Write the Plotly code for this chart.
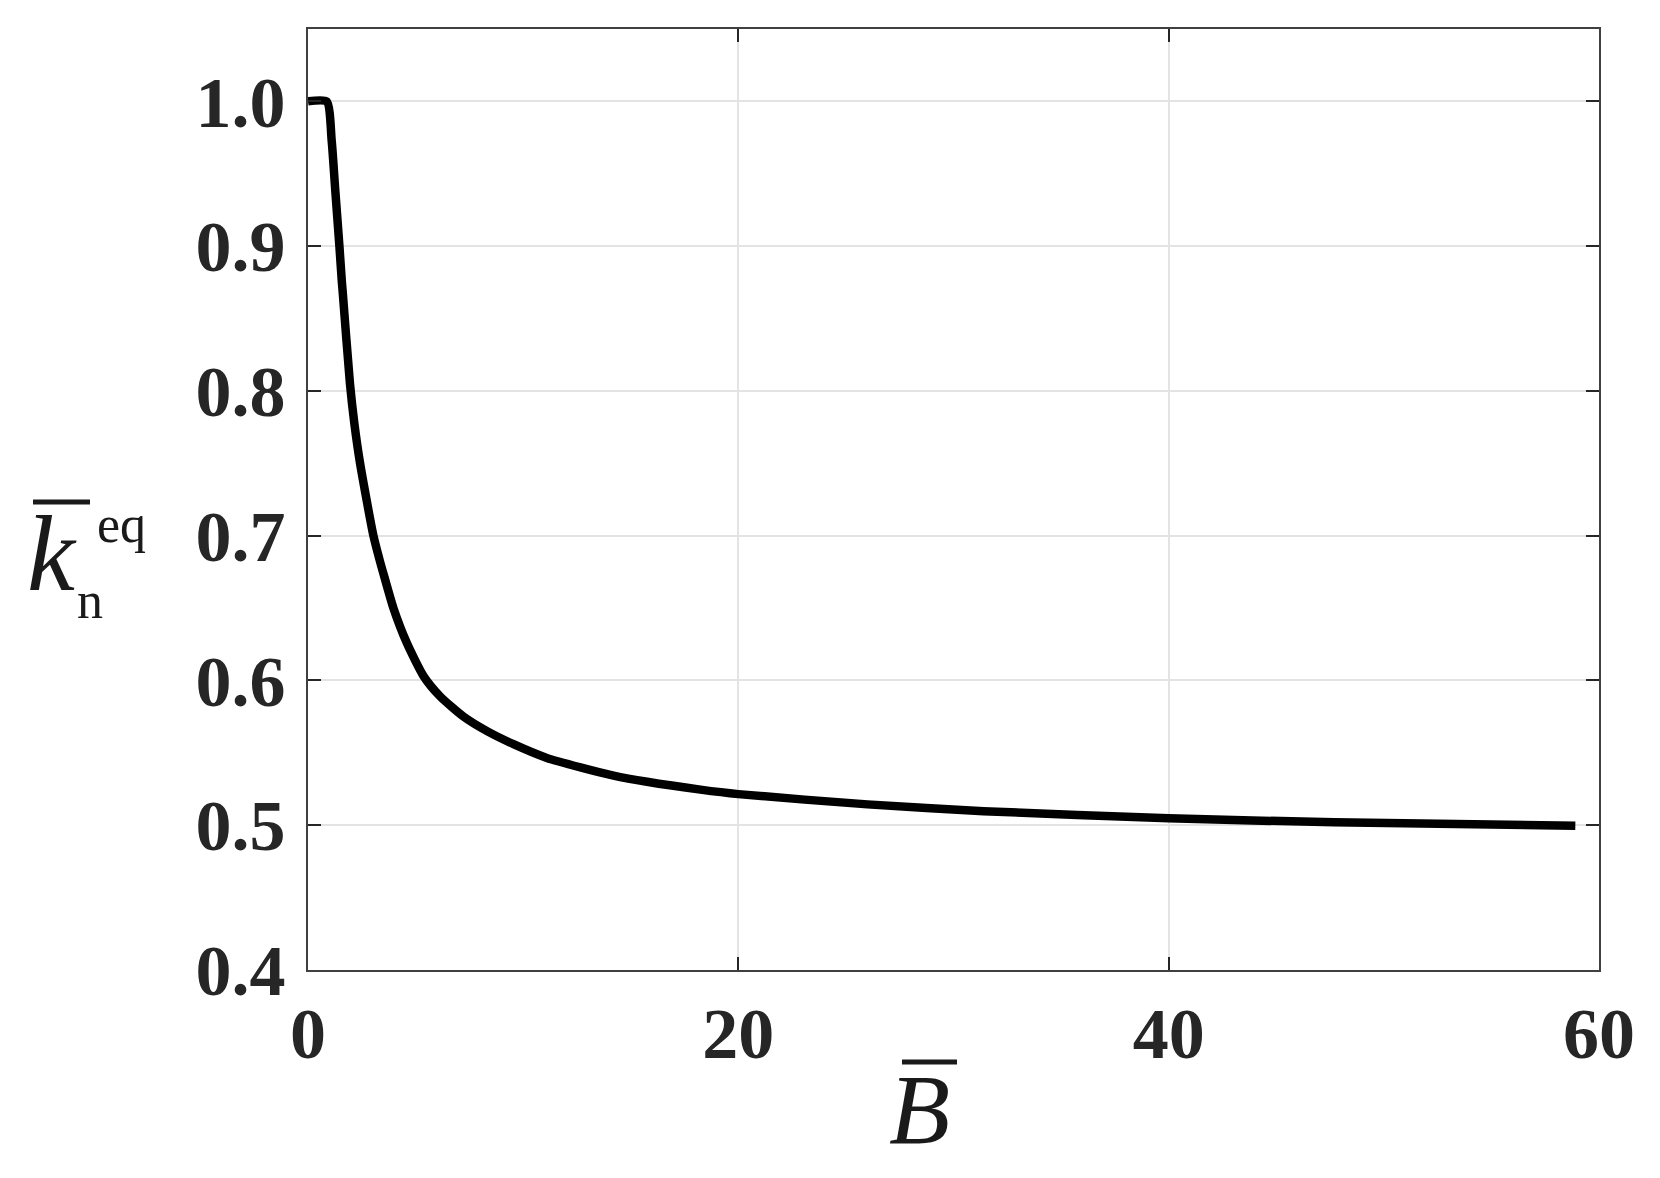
import plotly.graph_objects as go

# curve
b_bar = [0, 0.87, 1.10, 1.27, 1.46, 1.57, 1.61, 1.95, 2.15, 2.42, 3.04, 3.35, 3.54, 3.97,
         4.59, 5.37, 6.14, 7.23, 8.32, 9.55, 11.1, 12.66, 14.2, 15.76, 18.24,
         20, 26, 31.4, 40, 47.7, 58.9]
k_eq = [1.0, 1.0, 0.973, 0.938, 0.900, 0.876, 0.869, 0.805, 0.778, 0.750, 0.700, 0.682, 0.672, 0.650,
        0.626, 0.603, 0.589, 0.575, 0.565, 0.556, 0.5465, 0.540, 0.5343, 0.530, 0.5246,
        0.5215, 0.5144, 0.5097, 0.5049, 0.502, 0.4997]

x_ticks = [0, 20, 40, 60]
y_ticks = [0.4, 0.5, 0.6, 0.7, 0.8, 0.9, 1.0]

W, H = 1660, 1178
# page body has an 8px margin, so the plot box is offset by that much
L, R, T, B = 300, 69, 21, 216
X0, Y0 = 308, 970          # screen pixel of the axes origin
pw, ph = W - L - R, H - T - B


def px(x):
    return (x - X0) / pw


def py(y):
    return (Y0 - y) / ph


fig = go.Figure()
fig.add_trace(go.Scatter(x=b_bar, y=k_eq, mode='lines',
                         line=dict(color='black', width=8.5, shape='spline', smoothing=0.6),
                         showlegend=False))

axis_common = dict(
    showline=True, linecolor='#404040', linewidth=2, mirror='ticks',
    ticks='inside', ticklen=13, tickwidth=2, tickcolor='#262626',
    showgrid=True, gridcolor='#e3e3e3', gridwidth=2, zeroline=False, automargin=False,
    tickfont=dict(family='Liberation Serif', size=72, color='#262626', weight='bold'),
)
fig.update_xaxes(range=[0, 60], tickvals=x_ticks, ticklabelstandoff=0, **axis_common)
fig.update_yaxes(range=[0.4, 1.05], tickvals=y_ticks, tickformat='.1f', ticklabelstandoff=6, **axis_common)

serif = 'Liberation Serif'
ann = [
    dict(text='<i>k</i>', x=px(52), y=py(554), size=108),
    dict(text='n', x=px(90), y=py(600), size=52),
    dict(text='eq', x=px(121), y=py(524), size=52),
    dict(text='<i>B</i>', x=px(919), y=py(1109), size=100),
]
for a in ann:
    fig.add_annotation(text=a['text'], x=a['x'], y=a['y'], xref='paper', yref='paper',
                       xanchor='center', yanchor='middle', showarrow=False,
                       font=dict(family=serif, size=a['size'], color='#1a1a1a'))

# overbars on k and B
for x0, x1, y in [(33, 90, 502), (902, 957, 1062)]:
    fig.add_shape(type='line', xref='paper', yref='paper',
                  x0=px(x0), x1=px(x1), y0=py(y), y1=py(y),
                  line=dict(color='#1a1a1a', width=5))

fig.update_layout(
    width=W, height=H,
    margin=dict(l=L, r=R, t=T, b=B),
    plot_bgcolor='white', paper_bgcolor='white',
)
fig.write_html("out.html")
